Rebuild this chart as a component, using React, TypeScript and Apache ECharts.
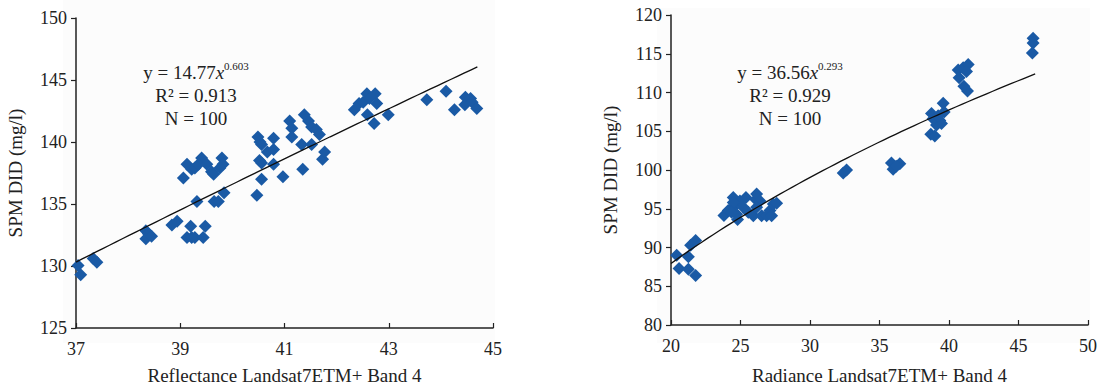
import React, { useEffect, useRef } from "react";
import * as echarts from "echarts";

// Reflectance (Band 4) vs SPM DID
const reflX = [
  37.04, 37.09, 37.33, 37.4, 38.34, 38.39, 38.34, 38.45, 38.84, 38.94,
  39.06, 39.13, 39.13, 39.2, 39.22, 39.22, 39.28, 39.32, 39.41, 39.44,
  39.48, 39.28, 39.35, 39.51, 39.6, 39.64, 39.65, 39.73, 39.8, 39.82,
  39.76, 39.84, 40.47, 40.49, 40.53, 40.56, 40.52, 40.56, 40.56, 40.67,
  40.79, 40.79, 40.79, 40.97, 41.1, 41.14, 41.14, 41.33, 41.35, 41.38,
  41.46, 41.52, 41.52, 41.61, 41.67, 41.73, 41.77, 42.34, 42.43, 42.51,
  42.58, 42.63, 42.59, 42.74, 42.77, 42.72, 42.99, 43.73, 44.1, 44.26,
  44.47, 44.46, 44.57, 44.6, 44.69,
];
const reflY = [
  130.05, 129.3, 130.6, 130.3, 132.85, 132.6, 132.2, 132.4, 133.3, 133.6,
  137.1, 138.2, 132.3, 133.2, 132.3, 137.8, 132.3, 135.2, 138.7, 132.3,
  133.2, 137.9, 138.2, 138.2, 137.6, 137.4, 135.2, 135.2, 138.7, 138.2,
  137.9, 135.9, 135.7, 140.4, 140.0, 139.8, 138.5, 138.3, 137.0, 139.2,
  139.4, 140.3, 138.2, 137.2, 141.7, 141.1, 140.4, 139.8, 137.8, 142.2,
  141.7, 141.2, 139.8, 141.0, 140.6, 138.6, 139.2, 142.6, 143.1, 143.2,
  143.9, 143.5, 142.2, 143.9, 143.1, 141.5, 142.2, 143.4, 144.1, 142.6,
  143.6, 143.0, 143.5, 143.2, 142.7,
];

// Radiance (Band 4) vs SPM DID
const radX = [
  20.41, 20.58, 21.25, 21.25, 21.41, 21.77, 21.77,
  23.81, 24.12, 24.48, 24.6, 24.72, 24.79, 24.96, 25.2, 25.39, 25.56,
  25.92, 26.1, 26.16, 26.4, 26.52, 26.88, 27.12, 27.24, 27.36, 27.6,
  24.48, 24.36, 26.16,
  32.39, 32.63, 35.86, 35.98, 36.46, 36.2,
  38.74, 38.69, 38.98, 39.1, 39.34, 39.46, 39.65, 39.58, 38.86, 39.22,
  40.66, 40.73, 41.02, 41.38, 41.26, 41.07, 41.33,
  46.05, 46.05, 46.0,
];
const radY = [
  89.0, 87.3, 88.8, 87.2, 90.3, 90.9, 86.4,
  94.13, 94.76, 96.46, 95.4, 94.3, 93.6, 96.0, 95.2, 96.46, 94.55,
  94.1, 96.2, 96.9, 96.0, 94.1, 94.1, 94.76, 94.1, 95.6, 95.7,
  95.8, 94.55, 95.2,
  99.6, 100.0, 100.9, 100.1, 100.8, 100.5,
  107.3, 104.6, 104.4, 105.8, 106.4, 106.0, 107.5, 108.6, 106.6, 107.0,
  112.9, 111.9, 113.2, 113.6, 112.7, 110.8, 110.2,
  117.0, 116.4, 115.1,
];

// Power-law fits y = a * x^b as printed on each panel
const reflFit = { a: 14.77, b: 0.603, r2: "0.913", n: 100, from: 37, to: 44.7 };
const radFit = { a: 36.56, b: 0.293, r2: "0.929", n: 100, from: 20, to: 46.2 };

const reflXTicks = { min: 37, max: 45, interval: 2 };
const reflYTicks = { min: 125, max: 150, interval: 5 };
const radXTicks = { min: 20, max: 50, interval: 5 };
const radYTicks = { min: 80, max: 120, interval: 5 };

const FONT = '"Liberation Serif", "Times New Roman", serif';
const INK = "#222";
const MARK = "#1a5aa5";

function fitCurve(f: { a: number; b: number; from: number; to: number }) {
  const pts: number[][] = [];
  const steps = 60;
  for (let i = 0; i <= steps; i++) {
    const x = f.from + ((f.to - f.from) * i) / steps;
    pts.push([x, f.a * Math.pow(x, f.b)]);
  }
  return pts;
}

function zip(xs: number[], ys: number[]) {
  return xs.map((x, i) => [x, ys[i]]);
}

function xAxisCfg(gridIndex: number, t: { min: number; max: number; interval: number }, name: string, gap: number) {
  return {
    type: "value",
    gridIndex,
    min: t.min,
    max: t.max,
    interval: t.interval,
    name,
    nameLocation: "middle",
    nameGap: gap,
    nameTextStyle: { fontFamily: FONT, fontSize: 19, color: INK },
    axisLine: { show: true, onZero: false, lineStyle: { color: INK, width: 1.5 } },
    axisTick: { show: true, inside: true, length: 5, lineStyle: { color: INK, width: 1.2 } },
    axisLabel: { fontFamily: FONT, fontSize: 18, color: INK, margin: 12 },
    splitLine: { show: false },
  };
}

function yAxisCfg(gridIndex: number, t: { min: number; max: number; interval: number }, gap: number) {
  return {
    type: "value",
    gridIndex,
    min: t.min,
    max: t.max,
    interval: t.interval,
    name: "SPM DID (mg/l)",
    nameLocation: "middle",
    nameGap: gap,
    nameTextStyle: { fontFamily: FONT, fontSize: 19, color: INK },
    axisLine: { show: true, onZero: false, lineStyle: { color: INK, width: 1.5 } },
    axisTick: { show: true, inside: false, length: 5, lineStyle: { color: INK, width: 1.2 } },
    axisLabel: { fontFamily: FONT, fontSize: 18, color: INK, margin: 9 },
    splitLine: { show: false },
  };
}

function fitLabel(f: { a: number; b: number; r2: string; n: number }, cx: number, top: number) {
  const base = { fontFamily: FONT, fontSize: 19, fill: INK };
  return [
    {
      type: "text",
      x: cx,
      y: top,
      style: {
        ...base,
        text: `{m|y = ${f.a.toFixed(2)}}{i|x}{s|${f.b}}`,
        align: "center",
        verticalAlign: "middle",
        rich: {
          m: { fontFamily: FONT, fontSize: 19, color: INK },
          i: { fontFamily: FONT, fontSize: 19, color: INK, fontStyle: "italic" },
          s: { fontFamily: FONT, fontSize: 11, color: INK, padding: [0, 0, 12, 0] },
        },
      },
    },
    {
      type: "text",
      x: cx,
      y: top + 23,
      style: { ...base, text: `R² = ${f.r2}`, align: "center", verticalAlign: "middle" },
    },
    {
      type: "text",
      x: cx,
      y: top + 46,
      style: { ...base, text: `N = ${f.n}`, align: "center", verticalAlign: "middle" },
    },
  ];
}

export default function App() {
  const ref = useRef<HTMLDivElement>(null);

  useEffect(() => {
    if (!ref.current) return;
    const chart = echarts.init(ref.current, undefined, { renderer: "svg" });
    const scatterStyle = {
      type: "scatter",
      symbol: "diamond",
      symbolSize: [13, 13],
      itemStyle: { color: MARK, opacity: 1 },
      z: 2,
    };
    const lineStyle = {
      type: "line",
      showSymbol: false,
      symbol: "none",
      smooth: false,
      lineStyle: { color: "#111", width: 1.3 },
      z: 3,
    };
    chart.setOption({
      animation: false,
      backgroundColor: "#ffffff",
      textStyle: { fontFamily: FONT },
      grid: [
        { left: 76, top: 18, width: 417, height: 314 },
        { left: 671, top: 15, width: 417, height: 314 },
      ],
      xAxis: [
        xAxisCfg(0, reflXTicks, "Reflectance Landsat7ETM+ Band 4", 38),
        xAxisCfg(1, radXTicks, "Radiance Landsat7ETM+ Band 4", 41),
      ],
      yAxis: [yAxisCfg(0, reflYTicks, 51), yAxisCfg(1, radYTicks, 51)],
      graphic: [
        { type: "rect", z: -10, shape: { x: 63, y: 0, width: 432, height: 343 }, style: { fill: "#fcfcfc" } },
        { type: "rect", z: -10, shape: { x: 657, y: 8, width: 433, height: 335 }, style: { fill: "#fcfcfc" } },
        ...fitLabel(reflFit, 196, 72),
        ...fitLabel(radFit, 790, 72),
      ],
      series: [
        { ...scatterStyle, xAxisIndex: 0, yAxisIndex: 0, data: zip(reflX, reflY) },
        { ...lineStyle, xAxisIndex: 0, yAxisIndex: 0, data: fitCurve(reflFit) },
        { ...scatterStyle, xAxisIndex: 1, yAxisIndex: 1, data: zip(radX, radY) },
        { ...lineStyle, xAxisIndex: 1, yAxisIndex: 1, data: fitCurve(radFit) },
      ],
    });
    return () => chart.dispose();
  }, []);

  return (
    <div
      ref={ref}
      style={{ position: "fixed", left: 0, top: 0, width: 1105, height: 390, background: "#fff" }}
    />
  );
}
